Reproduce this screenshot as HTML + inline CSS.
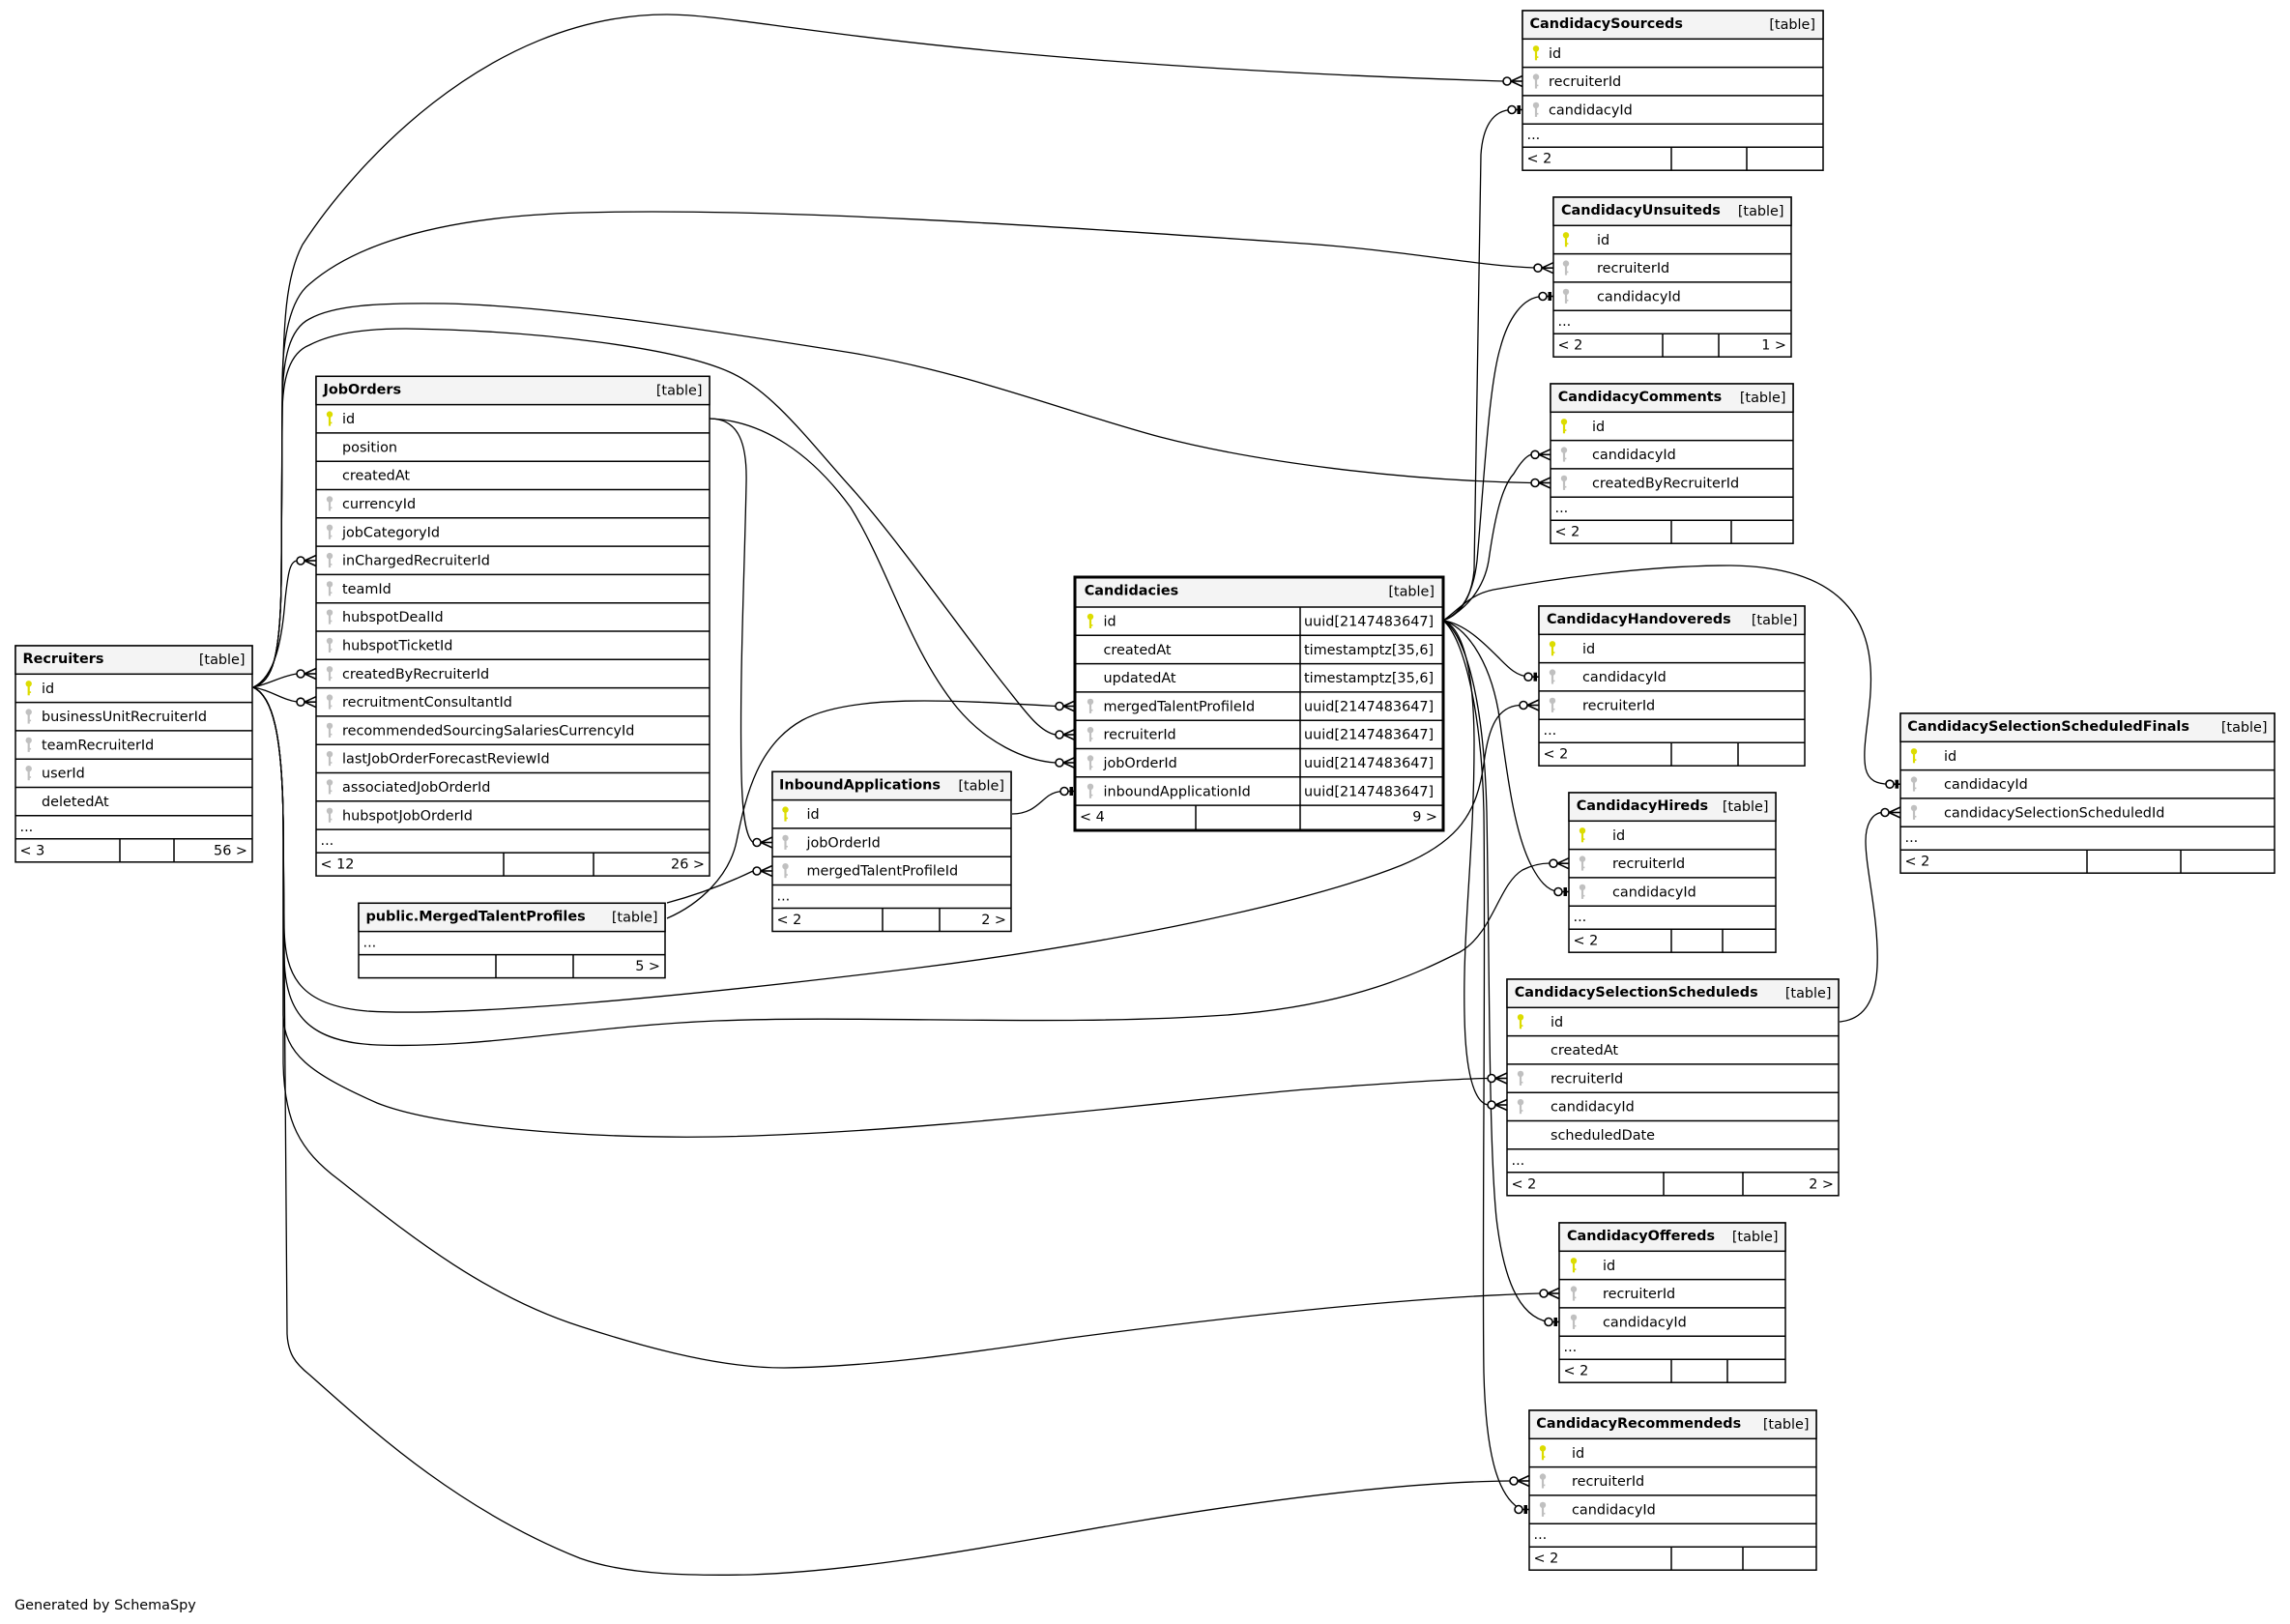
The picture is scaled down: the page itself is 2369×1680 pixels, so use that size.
<!DOCTYPE html>
<html><head><meta charset="utf-8"><style>
html,body{margin:0;padding:0;background:#fff;}
svg{display:block;}
text{font-family:"DejaVu Sans","Liberation Sans",sans-serif;font-size:14.4px;fill:#000;}
.b{font-weight:bold;}
.e{text-anchor:end;}
.tb{fill:#fff;stroke:#000;stroke-width:1.5;}
.hd{fill:#f4f4f4;stroke:#000;stroke-width:1.5;}
.ln{stroke:#000;stroke-width:1.5;fill:none;}
.ed{stroke:#000;stroke-width:1.3;fill:none;}
.mk{stroke:#000;stroke-width:1.6;fill:none;}
</style></head><body>
<svg width="2369" height="1680" viewBox="0 0 2369 1680" xmlns="http://www.w3.org/2000/svg">
<defs>
<g id="kpk"><circle cx="0" cy="10" r="3.2" fill="#dcdc00"/><rect x="-1.1" y="12" width="2.2" height="10" fill="#dcdc00"/><rect x="0.8" y="18" width="1.6" height="1.6" fill="#dcdc00"/></g>
<g id="kfk"><circle cx="0" cy="10" r="3.2" fill="#c0c0c0"/><rect x="-1.1" y="12" width="2.2" height="10" fill="#c0c0c0"/><rect x="0.8" y="18" width="1.6" height="1.6" fill="#c0c0c0"/></g>
<g id="crow" class="mk"><line x1="-12" y1="0" x2="0" y2="0"/><line x1="-12" y1="0" x2="0" y2="-5.5"/><line x1="-12" y1="0" x2="0" y2="5.5"/><circle cx="-16" cy="0" r="4" fill="#fff"/></g>
<g id="bar" class="mk"><line x1="-7" y1="0" x2="0" y2="0"/><rect x="-5.5" y="-4.5" width="3.5" height="9" fill="#000" stroke="none"/><circle cx="-11" cy="0" r="4" fill="#fff"/></g>
</defs>

<!-- ================= EDGES ================= -->
<g class="ed">
<!-- Recruiters -> CandidacySourceds.recruiterId -->
<path d="M262,711 C282,705 290,680 291,600 L292,420 C293,330 296,285 313,253 C360,180 500,15 690,15 C780,15 950,65 1555,84"/>
<!-- Recruiters -> CandidacyUnsuiteds.recruiterId -->
<path d="M262,711 C282,705 290,680 291,600 L292,400 C292,350 300,310 320,294 C350,268 420,225 600,220 C800,214 1100,235 1350,252 C1450,259 1530,275 1587,277"/>
<!-- Recruiters -> CandidacyComments.createdByRecruiterId -->
<path d="M262,711 C282,705 290,680 291,600 L292,420 C292,370 300,340 320,330 C345,316 390,313 460,314 C560,316 700,336 881,365 C1000,385 1100,425 1200,452 C1300,478 1450,497 1584,499.5"/>
<!-- Recruiters -> Candidacies.recruiterId -->
<path d="M262,711 C282,705 290,680 291,600 L292,430 C292,390 300,365 320,357 C345,344 380,340 420,340 C560,342 700,360 755,385 C800,405 840,460 881,505 C930,560 1000,660 1040,710 C1060,735 1075,757 1092,760"/>
<!-- JobOrders.id -> Candidacies.jobOrderId -->
<path d="M734,433 C790,435 840,470 880,525 C920,590 940,670 990,732 C1020,768 1060,787 1092,789"/>
<!-- JobOrders.id -> InboundApplications.jobOrderId -->
<path d="M734,433 C765,433 773,460 772,500 C770,600 765,700 767,800 C768,845 772,866 779,871.5"/>
<!-- MergedTalentProfiles -> Candidacies.mergedTalentProfileId -->
<path d="M690,950 C725,935 755,905 762,870 C772,820 785,770 830,745 C880,718 980,724 1092,730.5"/>
<!-- MergedTalentProfiles -> InboundApplications.mergedTalentProfileId -->
<path d="M690,934 C720,926 750,915 779,901"/>
<!-- InboundApplications.id -> Candidacies.inboundApplicationId -->
<path d="M1047,842 C1068,842 1075,830 1085,823 C1090,820 1094,818.5 1101,818.5"/>
<!-- Recruiters -> JobOrders -->
<path d="M262,711 C285,700 292,660 295,620 C298,592 300,581 307,580"/>
<path d="M262,711 C280,707 292,699 307,697"/>
<path d="M262,711 C280,714 292,724 307,726"/>
<!-- Recruiters -> CandidacyHandovereds.recruiterId -->
<path d="M262,711 C282,720 292,760 293,850 L294,960 C295,1010 310,1040 380,1046 C480,1052 700,1032 951,1001 C1150,976 1350,935 1450,895 C1510,870 1528,840 1535,790 C1540,750 1550,731 1572,729.5"/>
<!-- Recruiters -> CandidacyHireds.recruiterId -->
<path d="M262,711 C282,720 292,760 293,850 L294,990 C295,1050 320,1078 390,1081 C500,1085 600,1062 741,1056 C900,1050 1100,1062 1269,1050 C1400,1040 1470,1005 1510,985 C1545,965 1550,915 1575,900 C1585,895 1595,893 1603,893"/>
<!-- Recruiters -> CandidacySelectionScheduleds.recruiterId -->
<path d="M262,711 C282,720 292,760 293,850 L293,1050 C294,1090 320,1110 390,1141 C450,1165 600,1178 741,1176 C950,1172 1200,1140 1350,1127 C1430,1121 1500,1116 1539,1115.5"/>
<!-- Recruiters -> CandidacyOffereds.recruiterId -->
<path d="M262,711 C282,720 292,760 293,850 L293,1100 C294,1160 310,1190 350,1220 C420,1275 500,1340 600,1372 C680,1398 750,1415 811,1415 C900,1414 1000,1400 1100,1385 C1250,1365 1450,1342 1593,1338"/>
<!-- Recruiters -> CandidacyRecommendeds.recruiterId -->
<path d="M262,711 C282,720 292,760 293,850 L297,1380 C298,1400 305,1410 320,1422 C380,1475 470,1560 600,1612 C650,1630 720,1630 776,1629 C900,1625 1050,1595 1162,1576 C1300,1553 1450,1533 1562,1532"/>
<!-- Candidacies.id -> CandidacySourceds.candidacyId -->
<path d="M1493,642 C1510,636 1522,620 1525,590 L1532,160 C1534,130 1545,114 1564,113.5"/>
<!-- Candidacies.id -> CandidacyUnsuiteds.candidacyId -->
<path d="M1493,642 C1512,634 1524,615 1528,580 C1535,500 1540,400 1552,360 C1560,330 1575,307 1596,306.5"/>
<!-- Candidacies.id -> CandidacyComments.candidacyId -->
<path d="M1493,642 C1515,632 1535,610 1540,580 C1545,545 1552,505 1566,490 C1572,480 1578,472 1584,470.3"/>
<!-- Candidacies.id -> CandidacyHandovereds.candidacyId -->
<path d="M1493,642 C1515,645 1535,665 1550,680 C1560,690 1568,699 1581,700"/>
<!-- Candidacies.id -> CandidacySelectionScheduledFinals.candidacyId -->
<path d="M1493,642 C1510,630 1520,615 1545,610 C1600,600 1700,585 1790,585 C1880,586 1930,620 1935,690 C1938,730 1925,770 1930,795 C1933,808 1942,811 1955,811.3"/>
<!-- Candidacies.id -> CandidacyHireds.candidacyId -->
<path d="M1493,642 C1515,648 1540,680 1550,735 C1558,790 1565,860 1585,897 C1592,910 1600,921 1612,922.5"/>
<!-- Candidacies.id -> CandidacySelectionScheduleds.candidacyId -->
<path d="M1493,642 C1515,650 1525,700 1525,770 C1525,880 1513,960 1515,1050 C1516,1110 1525,1140 1539,1143"/>
<!-- Candidacies.id -> CandidacyOffereds.candidacyId -->
<path d="M1493,642 C1515,655 1535,720 1538,840 C1541,1000 1540,1180 1548,1260 C1555,1320 1570,1362 1602,1367.5"/>
<!-- Candidacies.id -> CandidacyRecommendeds.candidacyId -->
<path d="M1493,642 C1515,660 1533,740 1535,840 C1537,1000 1533,1300 1535,1420 C1537,1500 1548,1545 1571,1560"/>
<!-- CandidacySelectionScheduleds.id -> Finals.candidacySelectionScheduledId -->
<path d="M1903,1057 C1925,1055 1940,1040 1942,1000 C1944,950 1930,900 1930,870 C1930,852 1937,842 1946,840.5"/>
</g>

<!-- ================= TABLES ================= -->
<!-- Recruiters -->
<g>
<rect class="tb" x="16" y="668" width="245" height="223.8"/>
<rect class="hd" x="16" y="668" width="245" height="29.3"/>
<path class="ln" d="M16 726.6H261M16 755.9H261M16 785.2H261M16 814.5H261M16 843.8H261M16 867.8H261M124 867.8V891.8M180 867.8V891.8"/>
<text class="b" x="23.5" y="686">Recruiters</text><text class="e" x="253.5" y="687">[table]</text>
<use href="#kpk" x="29.7" y="697.3"/><use href="#kfk" x="29.7" y="726.6"/><use href="#kfk" x="29.7" y="755.9"/><use href="#kfk" x="29.7" y="785.2"/>
<text x="43" y="716.8">id</text>
<text x="43" y="746.1">businessUnitRecruiterId</text>
<text x="43" y="775.4">teamRecruiterId</text>
<text x="43" y="804.7">userId</text>
<text x="43" y="834">deletedAt</text>
<text x="20.5" y="859.8">...</text>
<text x="20.5" y="884.3">&lt; 3</text><text class="e" x="256" y="884.3">56 &gt;</text>
</g>

<!-- JobOrders -->
<g>
<rect class="tb" x="327" y="389.3" width="407" height="516.8"/>
<rect class="hd" x="327" y="389.3" width="407" height="29.3"/>
<path class="ln" d="M327 447.9H734M327 477.2H734M327 506.5H734M327 535.8H734M327 565.1H734M327 594.4H734M327 623.7H734M327 653H734M327 682.3H734M327 711.6H734M327 740.9H734M327 770.2H734M327 799.5H734M327 828.8H734M327 858.1H734M327 882.1H734M521 882.1V906.1M614 882.1V906.1"/>
<text class="b" x="334.5" y="407.3">JobOrders</text><text class="e" x="726.5" y="408.3">[table]</text>
<use href="#kpk" x="341" y="418.6"/>
<use href="#kfk" x="341" y="506.5"/><use href="#kfk" x="341" y="535.8"/><use href="#kfk" x="341" y="565.1"/><use href="#kfk" x="341" y="594.4"/><use href="#kfk" x="341" y="623.7"/><use href="#kfk" x="341" y="653"/><use href="#kfk" x="341" y="682.3"/><use href="#kfk" x="341" y="711.6"/><use href="#kfk" x="341" y="740.9"/><use href="#kfk" x="341" y="770.2"/><use href="#kfk" x="341" y="799.5"/><use href="#kfk" x="341" y="828.8"/>
<text x="354" y="438.1">id</text>
<text x="354" y="467.4">position</text>
<text x="354" y="496.7">createdAt</text>
<text x="354" y="526">currencyId</text>
<text x="354" y="555.3">jobCategoryId</text>
<text x="354" y="584.6">inChargedRecruiterId</text>
<text x="354" y="613.9">teamId</text>
<text x="354" y="643.2">hubspotDealId</text>
<text x="354" y="672.5">hubspotTicketId</text>
<text x="354" y="701.8">createdByRecruiterId</text>
<text x="354" y="731.1">recruitmentConsultantId</text>
<text x="354" y="760.4">recommendedSourcingSalariesCurrencyId</text>
<text x="354" y="789.7">lastJobOrderForecastReviewId</text>
<text x="354" y="819">associatedJobOrderId</text>
<text x="354" y="848.3">hubspotJobOrderId</text>
<text x="331.5" y="874.1">...</text>
<text x="331.5" y="898.6">&lt; 12</text><text class="e" x="729" y="898.6">26 &gt;</text>
</g>

<!-- Candidacies -->
<g>
<rect x="1112" y="597" width="381" height="262" fill="#fff" stroke="#000" stroke-width="3"/>
<rect x="1113.5" y="598.5" width="378" height="29.5" fill="#f4f4f4"/>
<path class="ln" d="M1112 628H1493M1112 657.3H1493M1112 686.6H1493M1112 715.9H1493M1112 745.2H1493M1112 774.5H1493M1112 803.8H1493M1112 833.1H1493M1345 628V859M1237 833.1V859"/>
<rect x="1112" y="597" width="381" height="262" fill="none" stroke="#000" stroke-width="3"/>
<text class="b" x="1121.7" y="615.5">Candidacies</text><text class="e" x="1484" y="616.5">[table]</text>
<use href="#kpk" x="1128" y="628"/><use href="#kfk" x="1128" y="715.9"/><use href="#kfk" x="1128" y="745.2"/><use href="#kfk" x="1128" y="774.5"/><use href="#kfk" x="1128" y="803.8"/>
<text x="1141.5" y="647.5">id</text><text x="1349" y="647.5">uuid[2147483647]</text>
<text x="1141.5" y="676.8">createdAt</text><text x="1349" y="676.8">timestamptz[35,6]</text>
<text x="1141.5" y="706.1">updatedAt</text><text x="1349" y="706.1">timestamptz[35,6]</text>
<text x="1141.5" y="735.4">mergedTalentProfileId</text><text x="1349" y="735.4">uuid[2147483647]</text>
<text x="1141.5" y="764.7">recruiterId</text><text x="1349" y="764.7">uuid[2147483647]</text>
<text x="1141.5" y="794">jobOrderId</text><text x="1349" y="794">uuid[2147483647]</text>
<text x="1141.5" y="823.3">inboundApplicationId</text><text x="1349" y="823.3">uuid[2147483647]</text>
<text x="1117" y="849.6">&lt; 4</text><text class="e" x="1487" y="849.6">9 &gt;</text>
</g>

<!-- InboundApplications -->
<g>
<rect class="tb" x="799" y="798.3" width="247" height="165.2"/>
<rect class="hd" x="799" y="798.3" width="247" height="29.3"/>
<path class="ln" d="M799 856.9H1046M799 886.2H1046M799 915.5H1046M799 939.5H1046M913 939.5V963.5M972 939.5V963.5"/>
<text class="b" x="806" y="816.3">InboundApplications</text><text class="e" x="1039" y="817.3">[table]</text>
<use href="#kpk" x="812.5" y="827.6"/><use href="#kfk" x="812.5" y="856.9"/><use href="#kfk" x="812.5" y="886.2"/>
<text x="834.5" y="847.1">id</text>
<text x="834.5" y="876.4">jobOrderId</text>
<text x="834.5" y="905.7">mergedTalentProfileId</text>
<text x="803.5" y="931.5">...</text>
<text x="803.5" y="956">&lt; 2</text><text class="e" x="1041" y="956">2 &gt;</text>
</g>

<!-- public.MergedTalentProfiles -->
<g>
<rect class="tb" x="371" y="934.3" width="317" height="77.3"/>
<rect class="hd" x="371" y="934.3" width="317" height="29.3"/>
<path class="ln" d="M371 987.6H688M513 987.6V1011.6M593 987.6V1011.6"/>
<text class="b" x="378.5" y="952.3">public.MergedTalentProfiles</text><text class="e" x="680.5" y="953.3">[table]</text>
<text x="375.5" y="979.6">...</text>
<text class="e" x="683" y="1004.1">5 &gt;</text>
</g>

<!-- CandidacySourceds T=11 -->
<g>
<rect class="tb" x="1575" y="11" width="311" height="165.2"/>
<rect class="hd" x="1575" y="11" width="311" height="29.3"/>
<path class="ln" d="M1575 69.6H1886M1575 98.9H1886M1575 128.2H1886M1575 152.2H1886M1729 152.2V176.2M1807 152.2V176.2"/>
<text class="b" x="1582.5" y="29">CandidacySourceds</text><text class="e" x="1878" y="30">[table]</text>
<use href="#kpk" x="1589" y="40.3"/><use href="#kfk" x="1589" y="69.6"/><use href="#kfk" x="1589" y="98.9"/>
<text x="1602" y="59.8">id</text><text x="1602" y="89.1">recruiterId</text><text x="1602" y="118.4">candidacyId</text>
<text x="1579.5" y="144.2">...</text><text x="1579.5" y="168.7">&lt; 2</text>
</g>

<!-- CandidacyUnsuiteds T=204 -->
<g>
<rect class="tb" x="1607" y="204" width="246" height="165.2"/>
<rect class="hd" x="1607" y="204" width="246" height="29.3"/>
<path class="ln" d="M1607 262.6H1853M1607 291.9H1853M1607 321.2H1853M1607 345.2H1853M1720 345.2V369.2M1778 345.2V369.2"/>
<text class="b" x="1615" y="222">CandidacyUnsuiteds</text><text class="e" x="1845.5" y="223">[table]</text>
<use href="#kpk" x="1620" y="233.3"/><use href="#kfk" x="1620" y="262.6"/><use href="#kfk" x="1620" y="291.9"/>
<text x="1652" y="252.8">id</text><text x="1652" y="282.1">recruiterId</text><text x="1652" y="311.4">candidacyId</text>
<text x="1611.5" y="337.2">...</text><text x="1611.5" y="361.7">&lt; 2</text><text class="e" x="1848" y="361.7">1 &gt;</text>
</g>

<!-- CandidacyComments T=397 -->
<g>
<rect class="tb" x="1604" y="397" width="251" height="165.2"/>
<rect class="hd" x="1604" y="397" width="251" height="29.3"/>
<path class="ln" d="M1604 455.6H1855M1604 484.9H1855M1604 514.2H1855M1604 538.2H1855M1729 538.2V562.2M1791 538.2V562.2"/>
<text class="b" x="1611.7" y="415">CandidacyComments</text><text class="e" x="1847.5" y="416">[table]</text>
<use href="#kpk" x="1618" y="426.3"/><use href="#kfk" x="1618" y="455.6"/><use href="#kfk" x="1618" y="484.9"/>
<text x="1647" y="445.8">id</text><text x="1647" y="475.1">candidacyId</text><text x="1647" y="504.4">createdByRecruiterId</text>
<text x="1608.5" y="530.2">...</text><text x="1608.5" y="554.7">&lt; 2</text>
</g>

<!-- CandidacyHandovereds T=627 -->
<g>
<rect class="tb" x="1592" y="627" width="275" height="165.2"/>
<rect class="hd" x="1592" y="627" width="275" height="29.3"/>
<path class="ln" d="M1592 685.6H1867M1592 714.9H1867M1592 744.2H1867M1592 768.2H1867M1729 768.2V792.2M1798 768.2V792.2"/>
<text class="b" x="1600" y="645">CandidacyHandovereds</text><text class="e" x="1859.5" y="646">[table]</text>
<use href="#kpk" x="1606" y="656.3"/><use href="#kfk" x="1606" y="685.6"/><use href="#kfk" x="1606" y="714.9"/>
<text x="1637" y="675.8">id</text><text x="1637" y="705.1">candidacyId</text><text x="1637" y="734.4">recruiterId</text>
<text x="1596.5" y="760.2">...</text><text x="1596.5" y="784.7">&lt; 2</text>
</g>

<!-- CandidacySelectionScheduledFinals T=738 -->
<g>
<rect class="tb" x="1966" y="738" width="387" height="165.2"/>
<rect class="hd" x="1966" y="738" width="387" height="29.3"/>
<path class="ln" d="M1966 796.6H2353M1966 825.9H2353M1966 855.2H2353M1966 879.2H2353M2159 879.2V903.2M2256 879.2V903.2"/>
<text class="b" x="1973.3" y="756">CandidacySelectionScheduledFinals</text><text class="e" x="2345.5" y="757">[table]</text>
<use href="#kpk" x="1980" y="767.3"/><use href="#kfk" x="1980" y="796.6"/><use href="#kfk" x="1980" y="825.9"/>
<text x="2011" y="786.8">id</text><text x="2011" y="816.1">candidacyId</text><text x="2011" y="845.4">candidacySelectionScheduledId</text>
<text x="1970.5" y="871.2">...</text><text x="1970.5" y="895.7">&lt; 2</text>
</g>

<!-- CandidacyHireds T=820 -->
<g>
<rect class="tb" x="1623" y="820" width="214" height="165.2"/>
<rect class="hd" x="1623" y="820" width="214" height="29.3"/>
<path class="ln" d="M1623 878.6H1837M1623 907.9H1837M1623 937.2H1837M1623 961.2H1837M1729 961.2V985.2M1782 961.2V985.2"/>
<text class="b" x="1630.7" y="838">CandidacyHireds</text><text class="e" x="1829.5" y="839">[table]</text>
<use href="#kpk" x="1637" y="849.3"/><use href="#kfk" x="1637" y="878.6"/><use href="#kfk" x="1637" y="907.9"/>
<text x="1668" y="868.8">id</text><text x="1668" y="898.1">recruiterId</text><text x="1668" y="927.4">candidacyId</text>
<text x="1627.5" y="953.2">...</text><text x="1627.5" y="977.7">&lt; 2</text>
</g>

<!-- CandidacySelectionScheduleds T=1013 -->
<g>
<rect class="tb" x="1559" y="1013" width="343" height="223.8"/>
<rect class="hd" x="1559" y="1013" width="343" height="29.3"/>
<path class="ln" d="M1559 1071.6H1902M1559 1100.9H1902M1559 1130.2H1902M1559 1159.5H1902M1559 1188.8H1902M1559 1212.8H1902M1721 1212.8V1236.8M1803 1212.8V1236.8"/>
<text class="b" x="1566.7" y="1031">CandidacySelectionScheduleds</text><text class="e" x="1894.5" y="1032">[table]</text>
<use href="#kpk" x="1573" y="1042.3"/><use href="#kfk" x="1573" y="1100.9"/><use href="#kfk" x="1573" y="1130.2"/>
<text x="1604" y="1061.8">id</text><text x="1604" y="1091.1">createdAt</text><text x="1604" y="1120.4">recruiterId</text><text x="1604" y="1149.7">candidacyId</text><text x="1604" y="1179">scheduledDate</text>
<text x="1563.5" y="1204.8">...</text><text x="1563.5" y="1229.3">&lt; 2</text><text class="e" x="1897" y="1229.3">2 &gt;</text>
</g>

<!-- CandidacyOffereds T=1265 -->
<g>
<rect class="tb" x="1613" y="1265" width="234" height="165.2"/>
<rect class="hd" x="1613" y="1265" width="234" height="29.3"/>
<path class="ln" d="M1613 1323.6H1847M1613 1352.9H1847M1613 1382.2H1847M1613 1406.2H1847M1729 1406.2V1430.2M1787 1406.2V1430.2"/>
<text class="b" x="1621" y="1283">CandidacyOffereds</text><text class="e" x="1839.5" y="1284">[table]</text>
<use href="#kpk" x="1628" y="1294.3"/><use href="#kfk" x="1628" y="1323.6"/><use href="#kfk" x="1628" y="1352.9"/>
<text x="1658" y="1313.8">id</text><text x="1658" y="1343.1">recruiterId</text><text x="1658" y="1372.4">candidacyId</text>
<text x="1617.5" y="1398.2">...</text><text x="1617.5" y="1422.7">&lt; 2</text>
</g>

<!-- CandidacyRecommendeds T=1459 -->
<g>
<rect class="tb" x="1582" y="1459" width="297" height="165.2"/>
<rect class="hd" x="1582" y="1459" width="297" height="29.3"/>
<path class="ln" d="M1582 1517.6H1879M1582 1546.9H1879M1582 1576.2H1879M1582 1600.2H1879M1729 1600.2V1624.2M1803 1600.2V1624.2"/>
<text class="b" x="1589.3" y="1477">CandidacyRecommendeds</text><text class="e" x="1871.5" y="1478">[table]</text>
<use href="#kpk" x="1596" y="1488.3"/><use href="#kfk" x="1596" y="1517.6"/><use href="#kfk" x="1596" y="1546.9"/>
<text x="1626" y="1507.8">id</text><text x="1626" y="1537.1">recruiterId</text><text x="1626" y="1566.4">candidacyId</text>
<text x="1586.5" y="1592.2">...</text><text x="1586.5" y="1616.7">&lt; 2</text>
</g>

<!-- ================= MARKERS ================= -->
<use href="#crow" x="1575" y="84"/>
<use href="#crow" x="1607" y="277.2"/>
<use href="#crow" x="1604" y="470.3"/>
<use href="#crow" x="1604" y="499.5"/>
<use href="#crow" x="1592" y="729.5"/>
<use href="#crow" x="1623" y="893.2"/>
<use href="#crow" x="1559" y="1115.5"/>
<use href="#crow" x="1559" y="1143"/>
<use href="#crow" x="1966" y="840.5"/>
<use href="#crow" x="1613" y="1338"/>
<use href="#crow" x="1582" y="1532"/>
<use href="#crow" x="327" y="580"/>
<use href="#crow" x="327" y="697"/>
<use href="#crow" x="327" y="726.2"/>
<use href="#crow" x="1112" y="730.5"/>
<use href="#crow" x="1112" y="760"/>
<use href="#crow" x="1112" y="789"/>
<use href="#crow" x="799" y="871.5"/>
<use href="#crow" x="799" y="901"/>

<use href="#bar" x="1575" y="113.5"/>
<use href="#bar" x="1607" y="306.5"/>
<use href="#bar" x="1592" y="700.2"/>
<use href="#bar" x="1623" y="922.5"/>
<use href="#bar" x="1966" y="811.2"/>
<use href="#bar" x="1613" y="1367.5"/>
<use href="#bar" x="1582" y="1561.5"/>
<use href="#bar" x="1112" y="818.5"/>

<text x="15" y="1665">Generated by SchemaSpy</text>
</svg>
</body></html>
